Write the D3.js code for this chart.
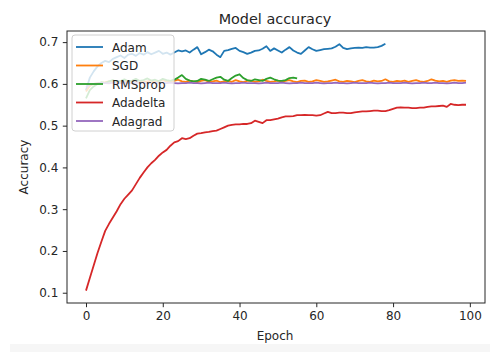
<!DOCTYPE html>
<html>
<head>
<meta charset="utf-8">
<script src="https://cdn.jsdelivr.net/npm/d3@7"></script>
<style>
  body { margin: 0; background: #fff; }
  svg text { font-family: "DejaVu Sans", sans-serif; fill: #262626; }
</style>
</head>
<body>
<script>
// accuracy per epoch
var adam = [.585,.615,.630,.642,.650,.655,.652,.660,.664,.668,.662,.670,.672,.667,.674,.670,.676,.671,.675,.679,
  .672,.675,.670,.675,.680,.678,.680,.675,.682,.688,.671,.676,.682,.678,.670,.664,.679,.681,.684,.686,
  .679,.676,.672,.675,.679,.680,.684,.690,.679,.685,.680,.675,.682,.688,.680,.675,.672,.680,.688,.683,
  .679,.681,.683,.684,.685,.689,.695,.686,.683,.685,.686,.687,.686,.688,.687,.687,.688,.691,.696];
var sgd = [.582,.595,.600,.602,.603,.604,.606,.605,.607,.604,.608,.606,.605,.609,.607,.604,.606,.608,.605,.607,
  .609,.606,.604,.607,.610,.606,.605,.608,.606,.604,.607,.609,.605,.606,.608,.604,.606,.607,.605,.609,
  .606,.604,.607,.608,.605,.606,.610,.607,.605,.606,.608,.605,.607,.609,.606,.604,.607,.608,.605,.606,
  .609,.607,.605,.606,.608,.610,.606,.605,.607,.606,.604,.607,.609,.606,.605,.608,.606,.607,.611,.606,
  .605,.607,.606,.608,.605,.607,.609,.606,.605,.607,.611,.608,.606,.607,.605,.608,.609,.607,.608,.607];
var rmsprop = [.565,.585,.594,.600,.604,.602,.606,.609,.604,.607,.611,.606,.608,.612,.607,.609,.613,.608,.610,.606,
  .612,.609,.607,.610,.615,.621,.612,.608,.606,.607,.612,.610,.607,.611,.615,.617,.610,.607,.614,.620,
  .623,.614,.609,.607,.611,.609,.607,.612,.615,.611,.608,.607,.609,.614,.615,.613];
var adadelta = [.105,.135,.165,.195,.222,.248,.265,.280,.295,.312,.325,.335,.345,.360,.375,.388,.400,.410,.418,.428,
  .436,.442,.452,.460,.463,.470,.468,.470,.476,.481,.482,.484,.485,.487,.488,.492,.496,.500,.502,.503,
  .503,.504,.504,.506,.512,.509,.506,.513,.513,.515,.517,.520,.522,.522,.523,.525,.525,.526,.525,.525,
  .524,.525,.529,.533,.530,.530,.531,.531,.530,.530,.532,.533,.534,.534,.535,.536,.536,.535,.535,.537,
  .540,.543,.544,.543,.543,.542,.542,.543,.543,.545,.546,.546,.547,.548,.545,.552,.550,.549,.550,.550];
var adagrad = [.592,.598,.600,.601,.602,.602,.601,.603,.602,.602,.603,.602,.601,.602,.603,.602,.602,.601,.602,.603,
  .602,.602,.603,.602,.601,.602,.602,.603,.602,.602,.601,.602,.603,.602,.602,.602,.603,.602,.601,.602,
  .602,.603,.602,.602,.602,.601,.602,.603,.602,.602,.602,.603,.602,.601,.602,.602,.603,.602,.602,.602,
  .603,.602,.601,.602,.602,.603,.602,.602,.601,.602,.603,.602,.602,.602,.603,.602,.601,.602,.602,.603,
  .602,.602,.602,.603,.602,.601,.602,.602,.603,.602,.602,.603,.602,.602,.601,.602,.603,.602,.602,.603];

var seriesNames = ["Adam", "SGD", "RMSprop", "Adadelta", "Adagrad"];
var seriesData = [adam, sgd, rmsprop, adadelta, adagrad];
var colors = ["#1f77b4", "#ff7f0e", "#2ca02c", "#d62728", "#9467bd"];
var xTicks = [0, 20, 40, 60, 80, 100];
var yTicks = [0.1, 0.2, 0.3, 0.4, 0.5, 0.6, 0.7];

var width = 490,
    height = 352;
var margin = {left: 67, right: 5, top: 31, bottom: 49};

var svg = d3.select("body").append("svg")
    .attr("width", width)
    .attr("height", height);

// faint strip at the bottom of the screenshot
svg.append("rect")
    .attr("x", 10).attr("y", 344)
    .attr("width", width - 10).attr("height", 8)
    .attr("fill", "#f6f6f6");

var x = d3.scaleLinear()
    .domain([-4.95, 103.95])
    .range([margin.left, width - margin.right]);
var y = d3.scaleLinear()
    .domain([0.0754, 0.7266])
    .range([height - margin.bottom, margin.top]);

var line = d3.line()
    .x(function(d, i) { return x(i); })
    .y(function(d) { return y(d); });

svg.selectAll("path.series")
    .data(seriesData)
    .enter().append("path")
    .attr("class", "series")
    .attr("d", line)
    .attr("fill", "none")
    .attr("stroke", function(d, i) { return colors[i]; })
    .attr("stroke-width", 1.8)
    .attr("stroke-linejoin", "round");

// axes
var xAxis = svg.append("g")
    .attr("transform", "translate(0," + (height - margin.bottom) + ")")
    .call(d3.axisBottom(x).tickValues(xTicks).tickSize(4.2).tickPadding(4.5).tickFormat(d3.format("d")));
var yAxis = svg.append("g")
    .attr("transform", "translate(" + margin.left + ",0)")
    .call(d3.axisLeft(y).tickValues(yTicks).tickSize(4.2).tickPadding(4.5).tickFormat(d3.format(".1f")));

[xAxis, yAxis].forEach(function(g) {
    g.select(".domain").remove();
    g.selectAll("line").attr("stroke", "#262626").attr("stroke-width", 1);
    g.selectAll("text").style("font-size", "12px").attr("fill", "#262626");
});

// frame
svg.append("rect")
    .attr("x", margin.left).attr("y", margin.top)
    .attr("width", width - margin.right - margin.left)
    .attr("height", height - margin.bottom - margin.top)
    .attr("fill", "none")
    .attr("stroke", "#262626")
    .attr("stroke-width", 1);

// title and axis labels
svg.append("text")
    .attr("x", 275).attr("y", 24)
    .attr("text-anchor", "middle")
    .style("font-size", "14.4px")
    .text("Model accuracy");
svg.append("text")
    .attr("x", 275).attr("y", 340)
    .attr("text-anchor", "middle")
    .style("font-size", "12px")
    .text("Epoch");
svg.append("text")
    .attr("transform", "translate(28,167) rotate(-90)")
    .attr("text-anchor", "middle")
    .style("font-size", "12px")
    .text("Accuracy");

// legend
var legend = svg.append("g").attr("transform", "translate(72,35)");
legend.append("rect")
    .attr("width", 102).attr("height", 96)
    .attr("rx", 3)
    .attr("fill", "#fff").attr("fill-opacity", 0.8)
    .attr("stroke", "#d0d0d0").attr("stroke-width", 1);
var entries = legend.selectAll("g.entry")
    .data(seriesNames)
    .enter().append("g")
    .attr("class", "entry")
    .attr("transform", function(d, i) { return "translate(0," + (12 + i * 18.5) + ")"; });
entries.append("line")
    .attr("x1", 4).attr("x2", 31)
    .attr("stroke", function(d, i) { return colors[i]; })
    .attr("stroke-width", 1.8);
entries.append("text")
    .attr("x", 40).attr("y", 4.5)
    .style("font-size", "12px")
    .text(function(d) { return d; });
</script>
</body>
</html>
